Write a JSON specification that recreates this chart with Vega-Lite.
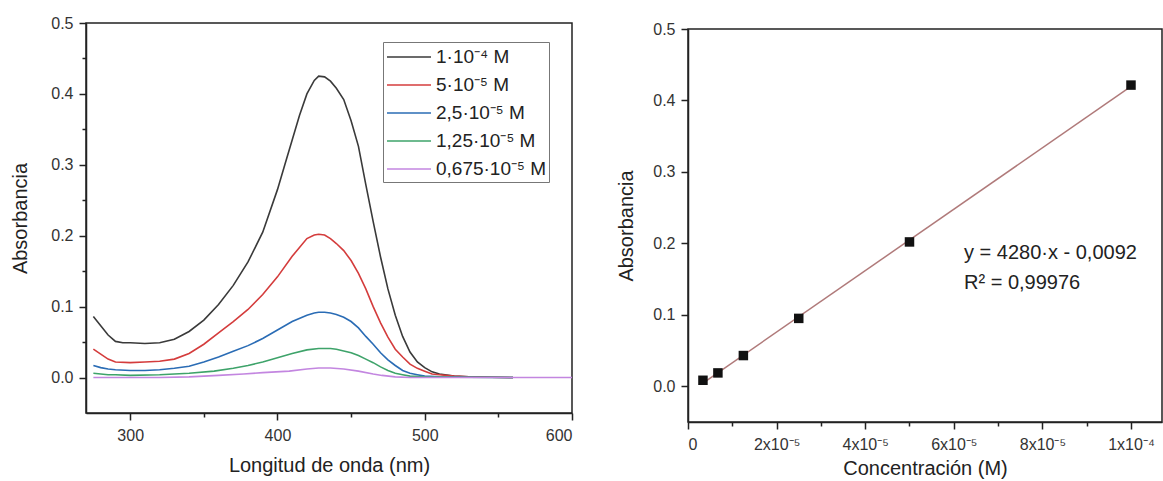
{
  "$schema": "https://vega.github.io/schema/vega-lite/v6.json",
  "padding": {"left": 10, "top": 14, "right": 0, "bottom": 0},
  "background": "white",
  "config": {
    "font": "Liberation Sans",
    "view": {"stroke": "#222", "strokeWidth": 1.5},
    "axis": {
      "labelFont": "Liberation Sans", "labelFontSize": 16, "labelColor": "#333",
      "titleFont": "Liberation Sans", "titleFontSize": 20, "titleFontWeight": "normal", "titleColor": "#222",
      "domainColor": "#222", "tickColor": "#222", "domainWidth": 1.5, "tickWidth": 1.5, "grid": false,
      "labelPadding": 6
    }
  },
  "datasets": {
    "spectra": [
      {"nm": 275, "A": 0.086, "s": "1·10⁻⁴ M"}, {"nm": 280, "A": 0.073, "s": "1·10⁻⁴ M"}, {"nm": 285, "A": 0.060, "s": "1·10⁻⁴ M"}, {"nm": 290, "A": 0.051, "s": "1·10⁻⁴ M"}, {"nm": 295, "A": 0.049, "s": "1·10⁻⁴ M"}, {"nm": 300, "A": 0.049, "s": "1·10⁻⁴ M"}, {"nm": 310, "A": 0.048, "s": "1·10⁻⁴ M"}, {"nm": 320, "A": 0.049, "s": "1·10⁻⁴ M"}, {"nm": 330, "A": 0.054, "s": "1·10⁻⁴ M"}, {"nm": 340, "A": 0.065, "s": "1·10⁻⁴ M"}, {"nm": 350, "A": 0.081, "s": "1·10⁻⁴ M"}, {"nm": 360, "A": 0.103, "s": "1·10⁻⁴ M"}, {"nm": 370, "A": 0.130, "s": "1·10⁻⁴ M"}, {"nm": 380, "A": 0.163, "s": "1·10⁻⁴ M"}, {"nm": 390, "A": 0.205, "s": "1·10⁻⁴ M"}, {"nm": 400, "A": 0.265, "s": "1·10⁻⁴ M"}, {"nm": 405, "A": 0.300, "s": "1·10⁻⁴ M"}, {"nm": 410, "A": 0.335, "s": "1·10⁻⁴ M"}, {"nm": 415, "A": 0.370, "s": "1·10⁻⁴ M"}, {"nm": 420, "A": 0.400, "s": "1·10⁻⁴ M"}, {"nm": 425, "A": 0.419, "s": "1·10⁻⁴ M"}, {"nm": 428, "A": 0.425, "s": "1·10⁻⁴ M"}, {"nm": 432, "A": 0.424, "s": "1·10⁻⁴ M"}, {"nm": 436, "A": 0.418, "s": "1·10⁻⁴ M"}, {"nm": 440, "A": 0.408, "s": "1·10⁻⁴ M"}, {"nm": 445, "A": 0.392, "s": "1·10⁻⁴ M"}, {"nm": 450, "A": 0.362, "s": "1·10⁻⁴ M"}, {"nm": 455, "A": 0.326, "s": "1·10⁻⁴ M"}, {"nm": 460, "A": 0.272, "s": "1·10⁻⁴ M"}, {"nm": 465, "A": 0.220, "s": "1·10⁻⁴ M"}, {"nm": 470, "A": 0.170, "s": "1·10⁻⁴ M"}, {"nm": 475, "A": 0.125, "s": "1·10⁻⁴ M"}, {"nm": 480, "A": 0.088, "s": "1·10⁻⁴ M"}, {"nm": 485, "A": 0.058, "s": "1·10⁻⁴ M"}, {"nm": 490, "A": 0.036, "s": "1·10⁻⁴ M"}, {"nm": 495, "A": 0.022, "s": "1·10⁻⁴ M"}, {"nm": 500, "A": 0.014, "s": "1·10⁻⁴ M"}, {"nm": 505, "A": 0.008, "s": "1·10⁻⁴ M"}, {"nm": 510, "A": 0.005, "s": "1·10⁻⁴ M"}, {"nm": 520, "A": 0.002, "s": "1·10⁻⁴ M"}, {"nm": 530, "A": 0.001, "s": "1·10⁻⁴ M"}, {"nm": 545, "A": 0.0005, "s": "1·10⁻⁴ M"}, {"nm": 560, "A": 0.0, "s": "1·10⁻⁴ M"},
      {"nm": 275, "A": 0.040, "s": "5·10⁻⁵ M"}, {"nm": 280, "A": 0.033, "s": "5·10⁻⁵ M"}, {"nm": 285, "A": 0.026, "s": "5·10⁻⁵ M"}, {"nm": 290, "A": 0.022, "s": "5·10⁻⁵ M"}, {"nm": 300, "A": 0.021, "s": "5·10⁻⁵ M"}, {"nm": 310, "A": 0.022, "s": "5·10⁻⁵ M"}, {"nm": 320, "A": 0.023, "s": "5·10⁻⁵ M"}, {"nm": 330, "A": 0.026, "s": "5·10⁻⁵ M"}, {"nm": 340, "A": 0.034, "s": "5·10⁻⁵ M"}, {"nm": 350, "A": 0.047, "s": "5·10⁻⁵ M"}, {"nm": 360, "A": 0.063, "s": "5·10⁻⁵ M"}, {"nm": 370, "A": 0.079, "s": "5·10⁻⁵ M"}, {"nm": 380, "A": 0.096, "s": "5·10⁻⁵ M"}, {"nm": 390, "A": 0.117, "s": "5·10⁻⁵ M"}, {"nm": 400, "A": 0.142, "s": "5·10⁻⁵ M"}, {"nm": 410, "A": 0.171, "s": "5·10⁻⁵ M"}, {"nm": 420, "A": 0.196, "s": "5·10⁻⁵ M"}, {"nm": 425, "A": 0.201, "s": "5·10⁻⁵ M"}, {"nm": 428, "A": 0.202, "s": "5·10⁻⁵ M"}, {"nm": 432, "A": 0.201, "s": "5·10⁻⁵ M"}, {"nm": 436, "A": 0.196, "s": "5·10⁻⁵ M"}, {"nm": 440, "A": 0.189, "s": "5·10⁻⁵ M"}, {"nm": 445, "A": 0.179, "s": "5·10⁻⁵ M"}, {"nm": 450, "A": 0.165, "s": "5·10⁻⁵ M"}, {"nm": 455, "A": 0.147, "s": "5·10⁻⁵ M"}, {"nm": 460, "A": 0.125, "s": "5·10⁻⁵ M"}, {"nm": 465, "A": 0.100, "s": "5·10⁻⁵ M"}, {"nm": 470, "A": 0.077, "s": "5·10⁻⁵ M"}, {"nm": 475, "A": 0.057, "s": "5·10⁻⁵ M"}, {"nm": 480, "A": 0.040, "s": "5·10⁻⁵ M"}, {"nm": 485, "A": 0.029, "s": "5·10⁻⁵ M"}, {"nm": 490, "A": 0.019, "s": "5·10⁻⁵ M"}, {"nm": 495, "A": 0.013, "s": "5·10⁻⁵ M"}, {"nm": 500, "A": 0.009, "s": "5·10⁻⁵ M"}, {"nm": 505, "A": 0.005, "s": "5·10⁻⁵ M"}, {"nm": 510, "A": 0.004, "s": "5·10⁻⁵ M"}, {"nm": 520, "A": 0.002, "s": "5·10⁻⁵ M"}, {"nm": 530, "A": 0.001, "s": "5·10⁻⁵ M"}, {"nm": 545, "A": 0.0005, "s": "5·10⁻⁵ M"}, {"nm": 560, "A": 0.0, "s": "5·10⁻⁵ M"},
      {"nm": 275, "A": 0.017, "s": "2,5·10⁻⁵ M"}, {"nm": 280, "A": 0.014, "s": "2,5·10⁻⁵ M"}, {"nm": 285, "A": 0.012, "s": "2,5·10⁻⁵ M"}, {"nm": 290, "A": 0.011, "s": "2,5·10⁻⁵ M"}, {"nm": 300, "A": 0.010, "s": "2,5·10⁻⁵ M"}, {"nm": 310, "A": 0.010, "s": "2,5·10⁻⁵ M"}, {"nm": 320, "A": 0.011, "s": "2,5·10⁻⁵ M"}, {"nm": 330, "A": 0.013, "s": "2,5·10⁻⁵ M"}, {"nm": 340, "A": 0.016, "s": "2,5·10⁻⁵ M"}, {"nm": 350, "A": 0.022, "s": "2,5·10⁻⁵ M"}, {"nm": 360, "A": 0.029, "s": "2,5·10⁻⁵ M"}, {"nm": 370, "A": 0.037, "s": "2,5·10⁻⁵ M"}, {"nm": 380, "A": 0.045, "s": "2,5·10⁻⁵ M"}, {"nm": 390, "A": 0.055, "s": "2,5·10⁻⁵ M"}, {"nm": 400, "A": 0.067, "s": "2,5·10⁻⁵ M"}, {"nm": 410, "A": 0.079, "s": "2,5·10⁻⁵ M"}, {"nm": 420, "A": 0.088, "s": "2,5·10⁻⁵ M"}, {"nm": 425, "A": 0.091, "s": "2,5·10⁻⁵ M"}, {"nm": 428, "A": 0.092, "s": "2,5·10⁻⁵ M"}, {"nm": 432, "A": 0.092, "s": "2,5·10⁻⁵ M"}, {"nm": 436, "A": 0.091, "s": "2,5·10⁻⁵ M"}, {"nm": 440, "A": 0.089, "s": "2,5·10⁻⁵ M"}, {"nm": 445, "A": 0.085, "s": "2,5·10⁻⁵ M"}, {"nm": 450, "A": 0.079, "s": "2,5·10⁻⁵ M"}, {"nm": 455, "A": 0.070, "s": "2,5·10⁻⁵ M"}, {"nm": 460, "A": 0.058, "s": "2,5·10⁻⁵ M"}, {"nm": 465, "A": 0.047, "s": "2,5·10⁻⁵ M"}, {"nm": 470, "A": 0.035, "s": "2,5·10⁻⁵ M"}, {"nm": 475, "A": 0.025, "s": "2,5·10⁻⁵ M"}, {"nm": 480, "A": 0.017, "s": "2,5·10⁻⁵ M"}, {"nm": 485, "A": 0.010, "s": "2,5·10⁻⁵ M"}, {"nm": 490, "A": 0.006, "s": "2,5·10⁻⁵ M"}, {"nm": 495, "A": 0.004, "s": "2,5·10⁻⁵ M"}, {"nm": 500, "A": 0.002, "s": "2,5·10⁻⁵ M"}, {"nm": 510, "A": 0.001, "s": "2,5·10⁻⁵ M"}, {"nm": 530, "A": 0.0005, "s": "2,5·10⁻⁵ M"}, {"nm": 560, "A": 0.0, "s": "2,5·10⁻⁵ M"},
      {"nm": 275, "A": 0.006, "s": "1,25·10⁻⁵ M"}, {"nm": 285, "A": 0.004, "s": "1,25·10⁻⁵ M"}, {"nm": 290, "A": 0.004, "s": "1,25·10⁻⁵ M"}, {"nm": 300, "A": 0.003, "s": "1,25·10⁻⁵ M"}, {"nm": 320, "A": 0.004, "s": "1,25·10⁻⁵ M"}, {"nm": 340, "A": 0.006, "s": "1,25·10⁻⁵ M"}, {"nm": 357, "A": 0.009, "s": "1,25·10⁻⁵ M"}, {"nm": 370, "A": 0.013, "s": "1,25·10⁻⁵ M"}, {"nm": 380, "A": 0.017, "s": "1,25·10⁻⁵ M"}, {"nm": 390, "A": 0.022, "s": "1,25·10⁻⁵ M"}, {"nm": 400, "A": 0.028, "s": "1,25·10⁻⁵ M"}, {"nm": 410, "A": 0.034, "s": "1,25·10⁻⁵ M"}, {"nm": 420, "A": 0.039, "s": "1,25·10⁻⁵ M"}, {"nm": 428, "A": 0.041, "s": "1,25·10⁻⁵ M"}, {"nm": 436, "A": 0.041, "s": "1,25·10⁻⁵ M"}, {"nm": 440, "A": 0.040, "s": "1,25·10⁻⁵ M"}, {"nm": 450, "A": 0.035, "s": "1,25·10⁻⁵ M"}, {"nm": 455, "A": 0.031, "s": "1,25·10⁻⁵ M"}, {"nm": 460, "A": 0.026, "s": "1,25·10⁻⁵ M"}, {"nm": 465, "A": 0.021, "s": "1,25·10⁻⁵ M"}, {"nm": 470, "A": 0.015, "s": "1,25·10⁻⁵ M"}, {"nm": 475, "A": 0.010, "s": "1,25·10⁻⁵ M"}, {"nm": 480, "A": 0.006, "s": "1,25·10⁻⁵ M"}, {"nm": 485, "A": 0.004, "s": "1,25·10⁻⁵ M"}, {"nm": 490, "A": 0.002, "s": "1,25·10⁻⁵ M"}, {"nm": 500, "A": 0.001, "s": "1,25·10⁻⁵ M"}, {"nm": 520, "A": 0.0005, "s": "1,25·10⁻⁵ M"}, {"nm": 560, "A": 0.0, "s": "1,25·10⁻⁵ M"},
      {"nm": 275, "A": 0.0, "s": "0,675·10⁻⁵ M"}, {"nm": 300, "A": 0.0, "s": "0,675·10⁻⁵ M"}, {"nm": 320, "A": 0.0, "s": "0,675·10⁻⁵ M"}, {"nm": 340, "A": 0.001, "s": "0,675·10⁻⁵ M"}, {"nm": 360, "A": 0.003, "s": "0,675·10⁻⁵ M"}, {"nm": 377, "A": 0.005, "s": "0,675·10⁻⁵ M"}, {"nm": 390, "A": 0.007, "s": "0,675·10⁻⁵ M"}, {"nm": 408, "A": 0.009, "s": "0,675·10⁻⁵ M"}, {"nm": 420, "A": 0.012, "s": "0,675·10⁻⁵ M"}, {"nm": 428, "A": 0.0135, "s": "0,675·10⁻⁵ M"}, {"nm": 436, "A": 0.0135, "s": "0,675·10⁻⁵ M"}, {"nm": 445, "A": 0.012, "s": "0,675·10⁻⁵ M"}, {"nm": 455, "A": 0.009, "s": "0,675·10⁻⁵ M"}, {"nm": 465, "A": 0.005, "s": "0,675·10⁻⁵ M"}, {"nm": 471, "A": 0.003, "s": "0,675·10⁻⁵ M"}, {"nm": 480, "A": 0.001, "s": "0,675·10⁻⁵ M"}, {"nm": 490, "A": 0.0, "s": "0,675·10⁻⁵ M"}, {"nm": 520, "A": 0.0, "s": "0,675·10⁻⁵ M"}, {"nm": 560, "A": 0.0, "s": "0,675·10⁻⁵ M"}, {"nm": 600, "A": 0.0, "s": "0,675·10⁻⁵ M"}
    ],
    "calib": [
      {"c": 0.000003375, "A": 0.0084},
      {"c": 0.00000675, "A": 0.0187},
      {"c": 0.0000125, "A": 0.043},
      {"c": 0.000025, "A": 0.095},
      {"c": 0.00005, "A": 0.202},
      {"c": 0.0001, "A": 0.4215}
    ],
    "fit": [
      {"eq": "y = 4280·x - 0,0092", "r2": "R² = 0,99976"}
    ]
  },
  "spacing": 42,
  "hconcat": [
    {
      "width": 486,
      "height": 390,
      "data": {"name": "spectra"},
      "mark": {"type": "line", "strokeWidth": 1.6, "clip": true},
      "encoding": {
        "x": {
          "field": "nm", "type": "quantitative",
          "scale": {"domain": [270, 600], "nice": false, "zero": false},
          "axis": {
            "title": "Longitud de onda (nm)", "titlePadding": 12,
            "values": [300, 350, 400, 450, 500, 550, 600],
            "labelExpr": "datum.value % 100 == 0 ? datum.label : ''",
            "tickSize": {"condition": {"test": "datum.value % 100 == 0", "value": 7}, "value": 4},
            "labelPadding": 7
          }
        },
        "y": {
          "field": "A", "type": "quantitative",
          "scale": {"domain": [-0.05, 0.5], "nice": false, "zero": false},
          "axis": {
            "title": "Absorbancia", "titlePadding": 20,
            "values": [0, 0.05, 0.1, 0.15, 0.2, 0.25, 0.3, 0.35, 0.4, 0.45, 0.5],
            "labelExpr": "round(datum.value * 100) % 10 == 0 ? format(datum.value, '.1f') : ''",
            "tickSize": {"condition": {"test": "round(datum.value * 100) % 10 == 0", "value": 7}, "value": 4}
          }
        },
        "color": {
          "field": "s", "type": "nominal", "sort": null,
          "scale": {
            "domain": ["1·10⁻⁴ M", "5·10⁻⁵ M", "2,5·10⁻⁵ M", "1,25·10⁻⁵ M", "0,675·10⁻⁵ M"],
            "range": ["#3a3a3a", "#d43c3c", "#2a6cb5", "#3ea36a", "#c386e0"]
          },
          "legend": {
            "title": null, "orient": "none", "legendX": 297, "legendY": 19,
            "strokeColor": "#777", "fillColor": "white", "padding": 3,
            "symbolType": "M-1,0H3", "symbolSize": 484, "symbolStrokeWidth": 1.6,
            "labelFontSize": 19, "labelFont": "Liberation Sans", "labelColor": "#222",
            "rowPadding": 6, "labelOffset": 26
          }
        }
      }
    },
    {
      "spacing": 5,
      "bounds": "flush",
      "vconcat": [
        {
          "width": 474,
          "height": 1,
          "view": {"stroke": null},
          "data": {"values": []},
          "mark": "point"
        },
        {
          "width": 474,
          "height": 393,
          "layer": [
            {
              "data": {"name": "calib"},
              "transform": [{"regression": "A", "on": "c"}],
              "mark": {"type": "line", "color": "#b07a7a", "strokeWidth": 1.5},
              "encoding": {
                "x": {
                  "field": "c", "type": "quantitative",
                  "scale": {"domain": [0, 0.000107], "nice": false},
                  "axis": {
                    "title": "Concentración (M)", "titlePadding": 6,
                    "values": [0, 0.00001, 0.00002, 0.00003, 0.00004, 0.00005, 0.00006, 0.00007, 0.00008, 0.00009, 0.0001],
                    "labelExpr": "round(datum.value * 100000) == 0 ? '0' : round(datum.value * 100000) == 10 ? '1x10⁻⁴' : round(datum.value * 100000) % 2 == 0 ? round(datum.value * 100000) + 'x10⁻⁵' : ''",
                    "tickSize": {"condition": {"test": "round(datum.value * 100000) % 2 == 0", "value": 7}, "value": 4},
                    "labelPadding": 7
                  }
                },
                "y": {
                  "field": "A", "type": "quantitative",
                  "scale": {"domain": [-0.05, 0.5], "nice": false, "zero": false},
                  "axis": {
                    "title": "Absorbancia", "titlePadding": 16,
                    "values": [0, 0.05, 0.1, 0.15, 0.2, 0.25, 0.3, 0.35, 0.4, 0.45, 0.5],
                    "labelExpr": "round(datum.value * 100) % 10 == 0 ? format(datum.value, '.1f') : ''",
                    "tickSize": {"condition": {"test": "round(datum.value * 100) % 10 == 0", "value": 7}, "value": 4}
                  }
                }
              }
            },
            {
              "data": {"name": "calib"},
              "mark": {"type": "square", "size": 90, "color": "#111", "opacity": 1, "filled": true},
              "encoding": {
                "x": {"field": "c", "type": "quantitative"},
                "y": {"field": "A", "type": "quantitative"}
              }
            },
            {
              "data": {"name": "fit"},
              "mark": {"type": "text", "align": "left", "baseline": "middle", "fontSize": 20, "font": "Liberation Sans", "color": "#222", "dy": -15},
              "encoding": {
                "x": {"datum": 0.0000623, "type": "quantitative"},
                "y": {"datum": 0.165, "type": "quantitative"},
                "text": {"field": "eq"}
              }
            },
            {
              "data": {"name": "fit"},
              "mark": {"type": "text", "align": "left", "baseline": "middle", "fontSize": 20, "font": "Liberation Sans", "color": "#222", "dy": 15},
              "encoding": {
                "x": {"datum": 0.0000623, "type": "quantitative"},
                "y": {"datum": 0.165, "type": "quantitative"},
                "text": {"field": "r2"}
              }
            }
          ]
        }
      ]
    }
  ]
}
